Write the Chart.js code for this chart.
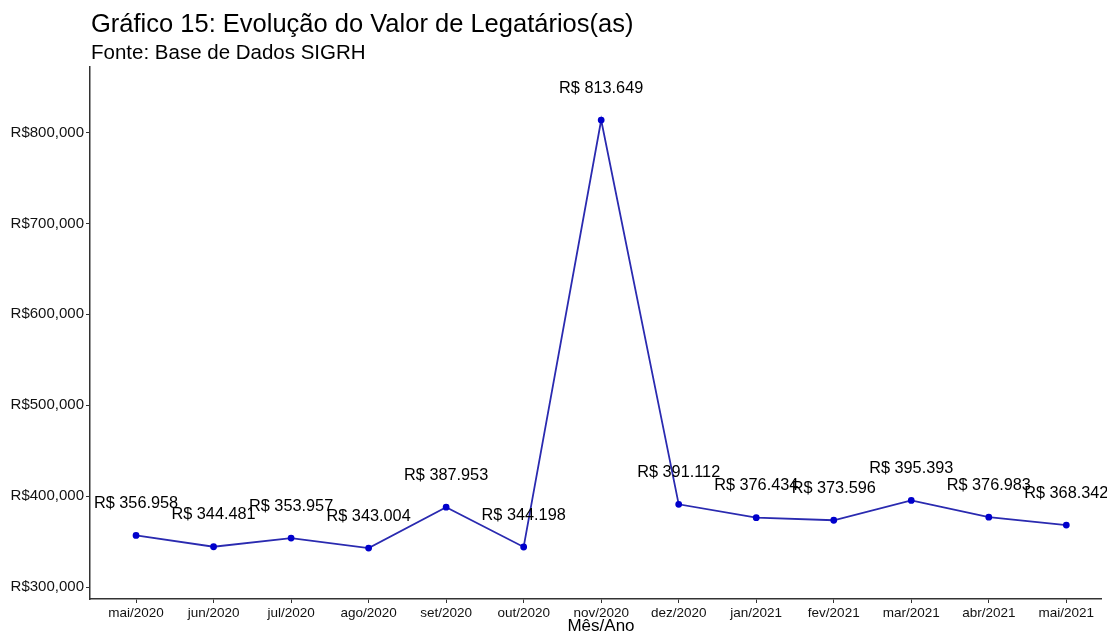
<!DOCTYPE html>
<html>
<head>
<meta charset="utf-8">
<script src="https://cdn.jsdelivr.net/npm/chart.js@4"></script>
<style>
  html, body { margin: 0; padding: 0; background: #fff; overflow: hidden; }
  #caixa { width: 1107px; height: 632px; }
</style>
</head>
<body>
<div id="caixa"><canvas id="grafico" width="1107" height="632"></canvas></div>
<script>
// meses e valores (R$)
var meses = ["mai/2020", "jun/2020", "jul/2020", "ago/2020", "set/2020", "out/2020",
             "nov/2020", "dez/2020", "jan/2021", "fev/2021", "mar/2021", "abr/2021", "mai/2021"];
var valores = [356958, 344481, 353957, 343004, 387953, 344198,
               813649, 391112, 376434, 373596, 395393, 376983, 368342];
var ticksY = [300000, 400000, 500000, 600000, 700000, 800000];

var fonte = "'Liberation Sans', Arial, sans-serif";

function formatoBR(v) {
	return "R$ " + String(v).replace(/\B(?=(\d{3})+(?!\d))/g, ".");
}
function formatoEixo(v) {
	return "R$" + String(v).replace(/\B(?=(\d{3})+(?!\d))/g, ",");
}

// pontos: indice do mes no eixo x, valor no eixo y
var pontos = valores.map(function(v, i) { return { x: i, y: v }; });

// textos: titulo, subtitulo, rotulo do eixo x e rotulos dos pontos
var textos = {
	id: "textos",
	afterDatasetsDraw: function(chart) {
		var ctx = chart.ctx;
		var x = chart.scales.x, y = chart.scales.y;
		ctx.save();
		ctx.fillStyle = "#000";
		ctx.textBaseline = "alphabetic";
		ctx.textAlign = "left";
		ctx.font = "25.5px " + fonte;
		ctx.fillText("Gráfico 15: Evolução do Valor de Legatários(as)", 91, 32);
		ctx.font = "20.5px " + fonte;
		ctx.fillText("Fonte: Base de Dados SIGRH", 91, 59);

		ctx.textAlign = "center";
		ctx.textBaseline = "middle";
		ctx.font = "16.3px " + fonte;
		valores.forEach(function(v, i) {
			ctx.fillText(formatoBR(v), x.getPixelForValue(i), y.getPixelForValue(v + 35000));
		});

		ctx.textBaseline = "alphabetic";
		ctx.font = "17px " + fonte;
		ctx.fillText("Mês/Ano", (chart.chartArea.left + 1112) / 2, 631);
		ctx.restore();
	}
};

var ctx1 = document.getElementById("grafico");

var chart1 = new Chart(ctx1, {
	type: "line",
	data: {
		datasets: [{
			data: pontos,
			borderColor: "#2a2ab0",
			borderWidth: 1.8,
			pointBackgroundColor: "#0000cc",
			pointBorderColor: "#0000cc",
			pointRadius: 2.5,
			tension: 0,
			fill: false
		}]
	},
	options: {
		responsive: false,
		maintainAspectRatio: false,
		animation: false,
		layout: { padding: { top: 67, left: 0, right: 0, bottom: 0 } },
		plugins: {
			legend: { display: false },
			title: { display: false },
			tooltip: { enabled: false }
		},
		scales: {
			x: {
				type: "linear",
				min: -0.594,
				max: 12.45,
				grid: { display: true, drawOnChartArea: false, tickLength: 4, tickColor: "#333", lineWidth: 1 },
				border: { display: true, color: "#333", width: 1.5 },
				ticks: {
					color: "#111",
					font: { family: fonte, size: 13.5 },
					padding: 2,
					maxRotation: 0,
					autoSkip: false,
					callback: function(v) { return meses[v]; }
				},
				afterBuildTicks: function(s) {
					s.ticks = meses.map(function(m, i) { return { value: i }; });
				},
				afterFit: function(s) { s.height = 33; }
			},
			y: {
				min: 287000,
				max: 872000,
				grid: { display: true, drawOnChartArea: false, tickLength: 4, tickColor: "#333", lineWidth: 1 },
				border: { display: true, color: "#333", width: 1.5 },
				ticks: {
					color: "#111",
					font: { family: fonte, size: 15 },
					padding: 2,
					callback: function(v) { return formatoEixo(v); }
				},
				afterBuildTicks: function(s) {
					s.ticks = ticksY.map(function(v) { return { value: v }; });
				},
				afterFit: function(s) { s.width = 90; }
			}
		}
	},
	plugins: [textos]
});
</script>
</body>
</html>
